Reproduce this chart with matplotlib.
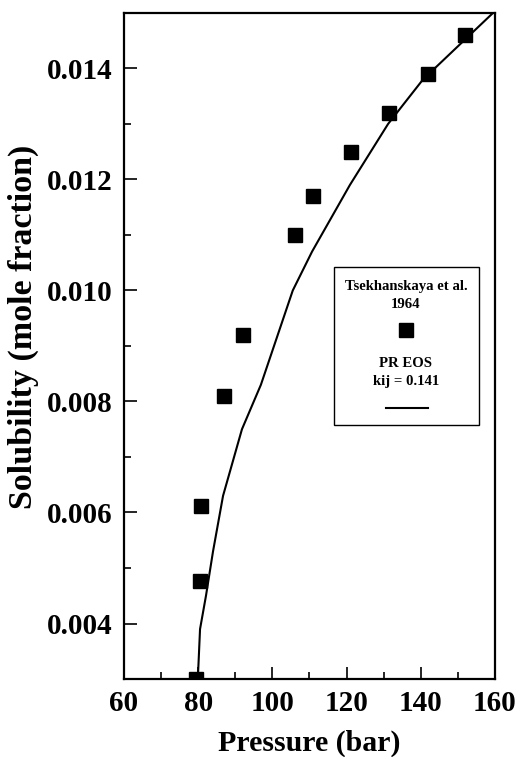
import matplotlib.pyplot as plt
from matplotlib.ticker import MultipleLocator, FormatStrFormatter
from matplotlib.patches import Rectangle

plt.rcParams['font.family'] = ['Liberation Serif', 'DejaVu Serif']
plt.rcParams['font.weight'] = 'bold'

# experimental solubility data (Tsekhanskaya et al. 1964)
p_exp = [79.4, 80.5, 80.8, 87.0, 92.1, 106.1, 110.9, 121.2, 131.4, 141.9, 151.9]
y_exp = [0.0030, 0.00476, 0.00611, 0.00809, 0.0092, 0.0110, 0.0117, 0.0125, 0.0132, 0.0139, 0.01461]

# PR EOS correlation, kij = 0.141
p_eos = [79.9, 80.5, 82.1, 84.0, 86.7, 91.8, 96.9, 105.5, 110.7, 120.9, 131.2, 140.6, 159.5]
y_eos = [0.0030, 0.0039, 0.0045, 0.0053, 0.0063, 0.0075, 0.0083, 0.0100, 0.0107, 0.0119, 0.0130, 0.0138, 0.0150]

fig = plt.figure(figsize=(5.21, 7.57), dpi=100)
ax = fig.add_axes([0.238, 0.103, 0.712, 0.880])

ax.plot(p_eos, y_eos, color='black', lw=1.5, zorder=2)
ax.plot(p_exp, y_exp, 's', color='black', ms=10, clip_on=True, zorder=3)

ax.set_xlim(60, 160)
ax.set_ylim(0.003, 0.015)
ax.xaxis.set_major_locator(MultipleLocator(20))
ax.xaxis.set_minor_locator(MultipleLocator(10))
ax.yaxis.set_major_locator(MultipleLocator(0.002))
ax.yaxis.set_minor_locator(MultipleLocator(0.001))
ax.yaxis.set_major_formatter(FormatStrFormatter('%.3f'))
ax.tick_params(which='both', direction='in', labelsize=21, width=1.2)
ax.tick_params(which='major', length=9, pad=8)
ax.tick_params(which='minor', length=5)
for s in ax.spines.values():
    s.set_linewidth(1.6)

ax.set_xlabel('Pressure (bar)', fontsize=21.5, fontweight='bold', labelpad=9)
ax.set_ylabel('Solubility (mole fraction)', fontsize=24.5, fontweight='bold')
ax.yaxis.set_label_coords(-0.272, 0.529)
ax.yaxis.label.set_va('center')

# hand-built legend box
tr = ax.transAxes
ax.add_patch(Rectangle((0.566, 0.381), 0.391, 0.238, transform=tr,
                       fill=False, lw=1.0, ec='black', zorder=4))
ax.text(0.760, 0.589, 'Tsekhanskaya et al.', transform=tr, ha='center', va='center', fontsize=10.6)
ax.text(0.760, 0.562, '1964', transform=tr, ha='center', va='center', fontsize=10.6)
ax.plot([0.760], [0.524], 's', color='black', ms=10, transform=tr)
ax.text(0.760, 0.474, 'PR EOS', transform=tr, ha='center', va='center', fontsize=10.6)
ax.text(0.760, 0.447, 'kij = 0.141', transform=tr, ha='center', va='center', fontsize=10.6)
ax.plot([0.706, 0.819], [0.407, 0.407], color='black', lw=1.5, transform=tr)

fig.savefig('out.png', dpi=100)
